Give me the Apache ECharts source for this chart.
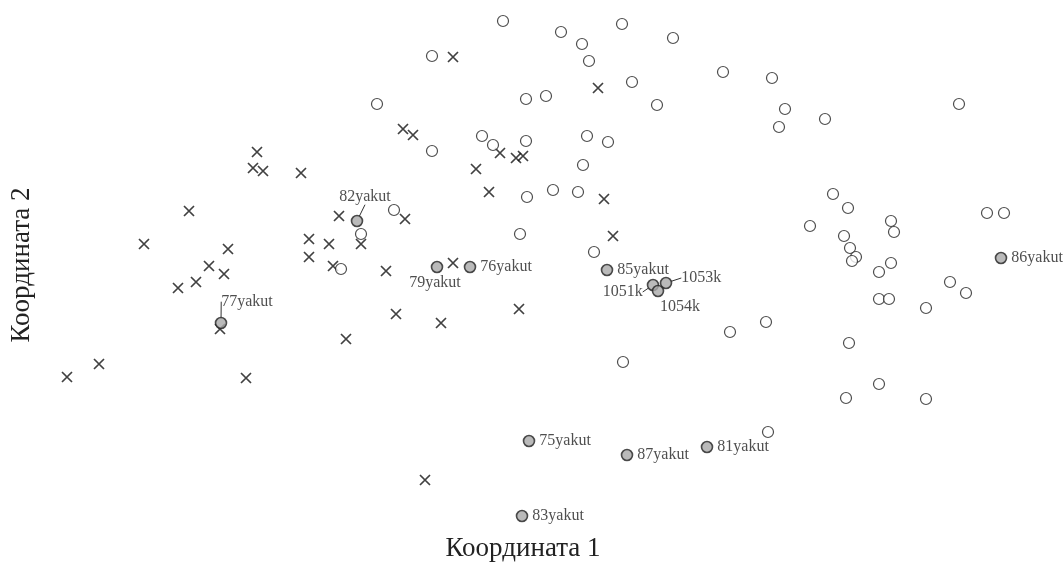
<!DOCTYPE html>
<html>
<head>
<meta charset="utf-8">
<script src="https://cdn.jsdelivr.net/npm/echarts@6/dist/echarts.min.js"></script>
<style>html,body{margin:0;padding:0;background:#fff;}#c{width:1063px;height:566px;}</style>
</head>
<body>
<div id="c"></div>
<script>
// Coordinates (Координата 1, Координата 2; y grows downward)
const crossPoints = [
  [67,377],[99,364],[144,244],[178,288],[196,282],[189,211],[209,266],[224,274],[228,249],
  [220,329],[246,378],[257,152],[253,168],[263,171],[301,173],[309,239],[309,257],[329,244],
  [333,266],[339,216],[346,339],[361,244],[405,219],[386,271],[396,314],[441,323],[453,263],
  [453,57],[403,129],[413,135],[476,169],[489,192],[500,153],[516,158],[523,156],[598,88],
  [604,199],[613,236],[519,309],[425,480]
];
const openPoints = [
  [503,21],[561,32],[582,44],[622,24],[673,38],[432,56],[589,61],[632,82],[526,99],[546,96],
  [657,105],[377,104],[482,136],[493,145],[526,141],[587,136],[608,142],[432,151],[583,165],
  [527,197],[553,190],[578,192],[394,210],[361,234],[341,269],[520,234],[594,252],[623,362],
  [723,72],[772,78],[785,109],[779,127],[825,119],[959,104],[833,194],[848,208],[810,226],
  [844,236],[891,221],[894,232],[850,248],[856,257],[852,261],[891,263],[879,272],[987,213],
  [1004,213],[950,282],[966,293],[879,299],[889,299],[926,308],[766,322],[730,332],[849,343],
  [879,384],[846,398],[926,399],[768,432]
];
const labeledNames = ['82yakut','77yakut','79yakut','76yakut','85yakut','1051k','1053k','1054k','86yakut','75yakut','87yakut','81yakut','83yakut'];
const labeledX = [357,221,437,470,607,653,666,658,1001,529,627,707,522];
const labeledY = [221,323,267,267,270,285,283,291,258,441,455,447,516];

// label placement (style only)
const labelPos = {
  '82yakut':['top',[8,-6],true], '77yakut':['top',[26,-3],true], '79yakut':['bottom',[-2,-3],false],
  '1051k':['left',[0,7],true], '1053k':['right',[5,-5],true], '1054k':['bottom',[22,-3],false]
};

const labeledData = labeledNames.map((n,i)=>{
  const item = {name:n, value:[labeledX[i], labeledY[i]]};
  const p = labelPos[n];
  if (p) {
    item.label = {position:p[0]};
    item.labelLine = {show:p[2]};
  }
  return item;
});

const font = 'Liberation Serif, Times New Roman, serif';
const chart = echarts.init(document.getElementById('c'), null, {renderer:'canvas'});
chart.setOption({
  backgroundColor:'#fff',
  animation:false,
  grid:{left:0,right:0,top:0,bottom:0},
  xAxis:{type:'value',min:0,max:1063,show:false},
  yAxis:{type:'value',min:0,max:566,inverse:true,show:false},
  graphic:[
    {type:'text',x:523,y:549,style:{text:'Координата 1',font:'27px '+font,fill:'#222',align:'center',verticalAlign:'middle'}},
    {type:'text',x:22,y:265,rotation:Math.PI/2,style:{text:'Координата 2',font:'27px '+font,fill:'#222',align:'center',verticalAlign:'middle'}}
  ],
  series:[
    {type:'scatter',data:crossPoints,symbol:'path://M0,0L10,10M10,0L0,10',symbolSize:10,
     itemStyle:{color:'rgba(0,0,0,0)',borderColor:'#111',borderWidth:1.7}},
    {type:'scatter',data:openPoints,symbol:'circle',symbolSize:11,
     itemStyle:{color:'#fff',borderColor:'#222',borderWidth:1.2}},
    {type:'scatter',data:labeledData,symbol:'circle',symbolSize:11,
     itemStyle:{color:'#a9a9a9',borderColor:'#222',borderWidth:1.6}},
  ].concat([]).map((s,i)=> i===2 ? Object.assign(s,{
     label:{show:true,position:'right',distance:4,formatter:'{b}',color:'#222',fontSize:16,fontFamily:font},
     labelLine:{show:false,lineStyle:{color:'#333',width:1}},
     labelLayout:function(params){
       const n = labeledNames[params.dataIndex];
       const p = labelPos[n];
       return p ? {dx:p[1][0],dy:p[1][1]} : {};
     }}) : s)
});
</script>
</body>
</html>
